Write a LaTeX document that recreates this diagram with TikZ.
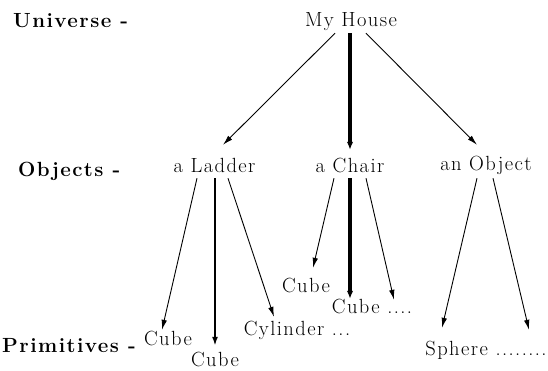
\documentclass[tikz,border=0pt]{standalone}
\usepackage{fontspec}
\setmainfont{Latin Modern Roman}[LetterSpace=7]
\usetikzlibrary{arrows.meta}
\begin{document}
\begin{tikzpicture}[x=1pt,y=-1pt,
  txt/.style={inner sep=0pt,text height=14pt,text depth=4pt,anchor=base,font=\fontsize{20.5}{24}\selectfont},
  lvl/.style={inner sep=0pt,anchor=base west,font=\fontsize{20.5}{24}\selectfont\bfseries},
  thinarr/.style={line width=0.9pt,-{Latex[length=10pt,width=5.5pt]}},
  medarr/.style={line width=2pt,-{Latex[length=9pt,width=6pt]}},
  thickarr/.style={line width=3.3pt,-{Latex[length=8pt,width=6.5pt]}}]
\useasboundingbox (0,0) rectangle (548,370);
% level labels
\node[lvl] (uni) at (13,27) {Universe -};
\node[lvl] (obj) at (18,176) {Objects -};
\node[lvl] (prim) at (2,352) {Primitives -};
% nodes
\node[txt] (house) at (351,26) {My House};
\node[txt] (ladder) at (214.5,172) {a Ladder};
\node[txt] (chair) at (350,172) {a Chair};
\node[txt] (object) at (486,170) {an Object};
\node[txt] (c1) at (168,345) {Cube};
\node[txt] (c2) at (215,366) {Cube};
\node[txt] (cyl) at (297,335) {Cylinder ...};
\node[txt] (c3) at (306,292) {Cube};
\node[txt] (c4) at (372,313) {Cube ....};
\node[txt] (sph) at (486,355) {Sphere ........};
% connectors
\draw[thinarr] ([shift={(-16,3)}]house.south) -- ([shift={(8.5,-13)}]ladder.north);
\draw[thickarr] ([shift={(-1,3)}]house.south) -- ([shift={(0,-8)}]chair.north);
\draw[thinarr] ([shift={(15,3)}]house.south) -- ([shift={(-9,-11)}]object.north);
\draw[thinarr] ([shift={(-17.5,2)}]ladder.south) -- ([shift={(-6,-1)}]c1.north);
\draw[medarr] ([shift={(0.5,2)}]ladder.south) -- ([shift={(0,-6)}]c2.north);
\draw[thinarr] ([shift={(13.5,2)}]ladder.south) -- ([shift={(-23,-4)}]cyl.north);
\draw[thinarr] ([shift={(-16,2)}]chair.south) -- ([shift={(7,-10)}]c3.north);
\draw[thickarr] ([shift={(0,2)}]chair.south) -- ([shift={(-22,0)}]c4.north);
\draw[thinarr] ([shift={(16,2)}]chair.south) -- ([shift={(22,1)}]c4.north);
\draw[thinarr] ([shift={(-9,4)}]object.south) -- ([shift={(-44,-13)}]sph.north);
\draw[thinarr] ([shift={(7,4)}]object.south) -- ([shift={(43,-11)}]sph.north);
\end{tikzpicture}
\end{document}
